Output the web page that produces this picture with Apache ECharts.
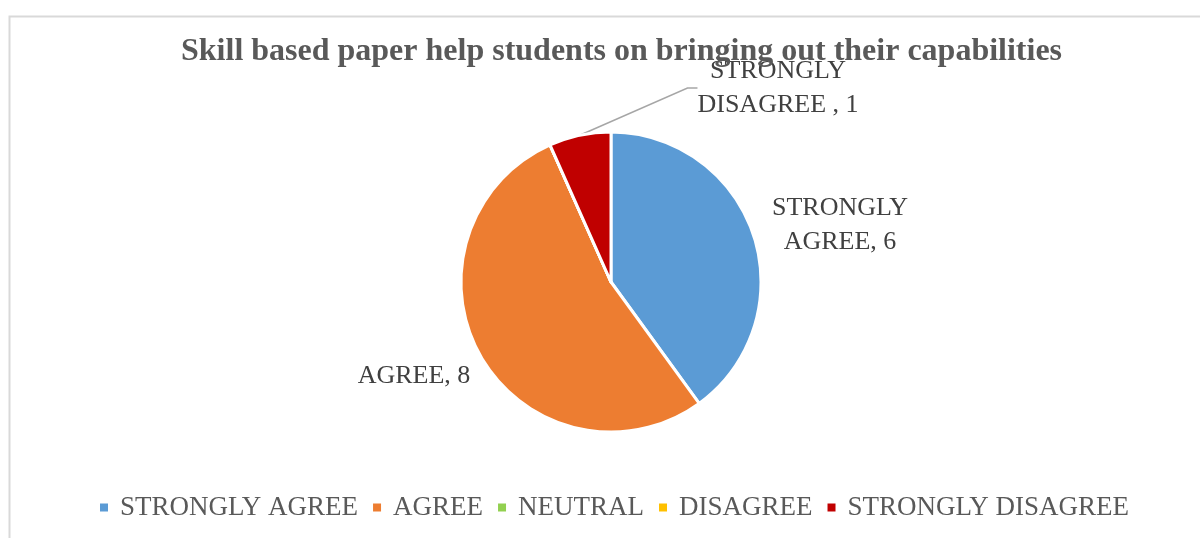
<!DOCTYPE html>
<html>
<head>
<meta charset="utf-8">
<script src="https://cdn.jsdelivr.net/npm/echarts@6/dist/echarts.min.js"></script>
<style>
html,body{margin:0;padding:0;background:#fff;}
#chart{width:1200px;height:538px;}
</style>
</head>
<body>
<div id="chart"></div>
<script>
const titleText = 'Skill based paper help students on bringing out their capabilities';
const categories = ['STRONGLY AGREE', 'AGREE', 'NEUTRAL', 'DISAGREE', 'STRONGLY DISAGREE'];
const values = [6, 8, 0, 0, 1];
const colors = ['#5B9BD5', '#ED7D31', '#92D050', '#FFC000', '#C00000'];
const labelTexts = ['STRONGLY\nAGREE, 6', 'AGREE, 8', '', '', 'STRONGLY\nDISAGREE , 1'];

const serif = '"Liberation Serif", "Times New Roman", "DejaVu Serif", serif';

// label placements (label anchor positions, not marks)
const labelPos = [
  {x: 840, y: 225, align: 'center'},
  {x: 414, y: 376, align: 'center'},
  null, null,
  {x: 778, y: 88, align: 'center'}
];

const chart = echarts.init(document.getElementById('chart'));
chart.setOption({
  animation: false,
  backgroundColor: '#ffffff',
  color: colors,
  graphic: [{
    type: 'rect',
    left: 7, top: 14,
    shape: {width: 1300, height: 700},
    style: {fill: 'none', stroke: '#d9d9d9', lineWidth: 2},
    silent: true
  }],
  title: {
    text: titleText,
    left: 176,
    top: 31,
    textStyle: {fontFamily: serif, fontSize: 32, fontWeight: 'bold', color: '#595959'}
  },
  legend: {
    bottom: 12,
    left: 93,
    icon: 'rect',
    itemWidth: 10,
    itemHeight: 10,
    itemGap: 13,
    data: categories,
    textStyle: {fontFamily: serif, fontSize: 27, color: '#595959', padding: [0, 0, 0, 6]}
  },
  series: [{
    type: 'pie',
    center: [611, 282],
    radius: 150,
    startAngle: 90,
    clockwise: true,
    avoidLabelOverlap: false,
    itemStyle: {borderColor: '#ffffff', borderWidth: 3},
    label: {
      show: true,
      position: 'outside',
      fontFamily: serif,
      fontSize: 26,
      lineHeight: 34,
      color: '#404040',
      formatter: p => labelTexts[p.dataIndex]
    },
    labelLine: {show: false},
    labelLayout: function (params) {
      const pos = labelPos[params.dataIndex];
      if (!pos) return {};
      return {x: pos.x, y: pos.y, align: pos.align, verticalAlign: 'middle'};
    },
    data: categories.map((c, i) => ({
      name: c,
      value: values[i],
      label: {show: values[i] > 0},
      labelLine: i === 4 ? {show: true, lineStyle: {color: '#a6a6a6', width: 1.5}, length: 30, length2: 10} : {show: false}
    }))
  }]
});
</script>
</body>
</html>
